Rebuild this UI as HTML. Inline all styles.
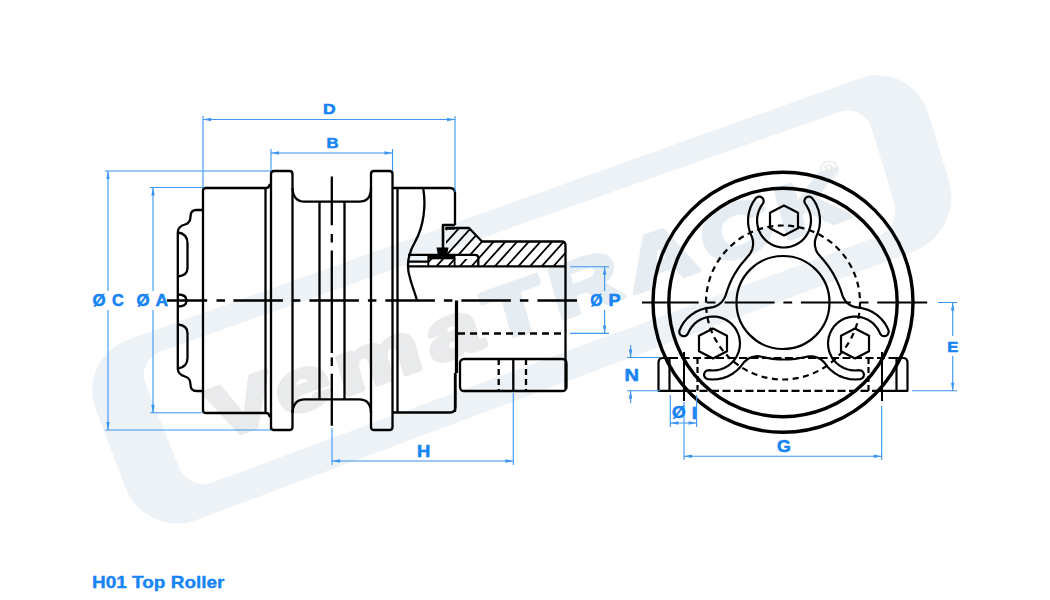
<!DOCTYPE html>
<html><head><meta charset="utf-8"><style>
html,body{margin:0;padding:0;background:#fff;}
body{width:1050px;height:600px;overflow:hidden;font-family:"Liberation Sans",sans-serif;}
svg{display:block;}
</style></head><body>
<svg width="1050" height="600" viewBox="0 0 1050 600">
<rect width="1050" height="600" fill="#fff"/>
<path fill="#ecf2f6" fill-rule="evenodd" d="M128.1,339.8 L859.8,78.4 C888.4,68.2 918.9,83.4 927.9,112.4 L948.8,179.7 C957.8,208.7 942.1,240.9 913.6,251.5 L196.7,520.0 C168.3,530.6 136.4,516.2 125.6,487.8 L95.8,409.7 C85.0,381.3 99.5,350.0 128.1,339.8Z M160.7,351.4 L839.5,111.9 C853.0,107.2 867.4,114.4 871.6,128.2 L894.2,202.5 C898.4,216.2 890.8,231.4 877.4,236.4 L212.8,482.3 C199.4,487.2 184.1,480.5 178.8,467.1 L145.8,384.2 C140.5,370.9 147.1,356.2 160.7,351.4Z"/>
<g transform="rotate(-19.5)">
<text transform="translate(58,488) skewX(-4) scale(1.36,1)" x="0" y="0" font-family="Liberation Sans, sans-serif" font-weight="bold" font-size="72" fill="#e9eaeb" stroke="#e9eaeb" stroke-width="5" stroke-linejoin="round" textLength="494" lengthAdjust="spacing">Vema<tspan fill="#e6edf2" stroke="#e6edf2">TRACK</tspan></text>
<text x="725" y="446" font-family="Liberation Sans, sans-serif" font-size="26" fill="#e9eaeb" text-anchor="middle">®</text>
</g>
<g fill="none" stroke="#000" stroke-width="2.3" stroke-linejoin="round" stroke-linecap="butt">
<path d="M203,210 H196.5 Q190.5,210 190.5,216.5 Q190.5,223 185,224.5 Q178,226.5 177.8,232 V369 Q178,374.5 185,376.5 Q190.5,378 190.5,384.5 Q190.5,391 196.5,391 H203"/>
<path d="M178,232.5 Q187.5,234 187.5,243 V268 Q187.5,275.5 178,276.5"/>
<path d="M178,324.5 Q187.5,325.5 187.5,333 V358 Q187.5,367 178,368.5"/>
<path d="M178,294.5 Q186.5,294.5 186.5,300.5 Q186.5,306.5 178,306.5"/>
<path d="M203,191 Q203,188 206,188 H266 Q269,188 269.5,185 L271,184"/>
<path d="M203,191 V410 Q203,413 206,413 H266 Q269,413 269.5,416 L271,417"/>
<path d="M265.5,188 V413"/>
<path d="M271,430 V174 Q271,171 274,171 H289.5 Q292.5,171 292.5,174 V427 Q292.5,430 289.5,430 H274 Q271,430 271,427"/>
<path d="M292.5,188 Q293,201.7 305,201.7 H359 Q371,201.7 371,188"/>
<path d="M292.5,413 Q293,399.3 305,399.3 H359 Q371,399.3 371,413"/>
<path d="M319.5,201.7 V399.3 M344.5,201.7 V399.3"/>
<path d="M371,174 Q371,171 374,171 H389.5 Q392.5,171 392.5,174 V427 Q392.5,430 389.5,430 H374 Q371,430 371,427 Z"/>
<path d="M393,188 H450 Q455,188 455,193 V225"/>
<path d="M393,412.5 H450 Q455.5,412.5 455.5,407 V373"/>
<path d="M397.5,188 V412.5"/>
<path d="M423.3,189 C426,205 424,226 415,242 C408,254 406,266 410,278 C412,286 415,293 417,300.5"/>
<path d="M455,225 H443 V249" stroke-width="2.6"/>
<path d="M445,228.5 H455"/>
<path d="M446,228 H469 L482,241.5 H561.5 Q565.5,241.5 565.5,245.5 V389"/>
<path d="M408,254.8 H475 Q478.3,254.8 478.3,258 V266.3 M408,261.7 H428 M408,266.3 H565.5"/>
<path d="M428.3,255 V266 M454.6,255 V266" stroke-width="1.8"/>
<path d="M456.5,300.5 V373" stroke-width="3.2"/>
<path d="M455,373 V412"/>
<path d="M458,333.5 H565" stroke-dasharray="7,5"/>
<rect x="460" y="359" width="106.5" height="32" rx="4"/>
<path d="M513.3,359 V391"/>
<path d="M498.7,359 V391 M526,359 V391" stroke-dasharray="6,4"/>
<path d="M331.8,176.5 V225.3 M331.8,234 V242.6 M331.8,250.6 V353 M331.8,357.4 V366 M331.8,373.7 V425.7"/>
<path d="M167.0,300.5 H207.2 M216.5,300.5 H225.0 M233.4,300.5 H282.9 M291.9,300.5 H300.4 M309.4,300.5 H358.9 M367.9,300.5 H376.4 M385.4,300.5 H434.9 M443.9,300.5 H452.4 M461.4,300.5 H510.9 M519.9,300.5 H528.4 M537.4,300.5 H577.0"/>
</g>
<clipPath id="hc"><path d="M446,228 H469 L482,241.5 H561.5 Q565.5,241.5 565.5,245.5 V266.3 H478 V254.8 H446 Z M428,259 H478 V266.3 H428 Z"/></clipPath>
<path clip-path="url(#hc)" d="M281.0,270 L326.0,220 M292.7,270 L337.7,220 M304.4,270 L349.4,220 M316.1,270 L361.1,220 M327.8,270 L372.8,220 M339.5,270 L384.5,220 M351.2,270 L396.2,220 M362.9,270 L407.9,220 M374.6,270 L419.6,220 M386.3,270 L431.3,220 M398.0,270 L443.0,220 M409.7,270 L454.7,220 M421.4,270 L466.4,220 M433.1,270 L478.1,220 M444.8,270 L489.8,220 M456.5,270 L501.5,220 M468.2,270 L513.2,220 M479.9,270 L524.9,220 M491.6,270 L536.6,220 M503.3,270 L548.3,220 M515.0,270 L560.0,220 M526.7,270 L571.7,220 M538.4,270 L583.4,220 M550.1,270 L595.1,220 M561.8,270 L606.8,220 M573.5,270 L618.5,220 M585.2,270 L630.2,220 M596.9,270 L641.9,220 M608.6,270 L653.6,220 M620.3,270 L665.3,220 M632.0,270 L677.0,220 M643.7,270 L688.7,220 M655.4,270 L700.4,220 M667.1,270 L712.1,220 M678.8,270 L723.8,220 M690.5,270 L735.5,220 M702.2,270 L747.2,220 M713.9,270 L758.9,220 M725.6,270 L770.6,220 M737.3,270 L782.3,220" stroke="#000" stroke-width="1.8" fill="none"/>
<path d="M436.5,247.5 H448.5 L447,256 H438 Z" fill="#000"/>
<rect x="428" y="254.5" width="27" height="4.8" fill="#000"/>
<g fill="none" stroke="#000" stroke-width="3.4">
<circle cx="783" cy="302.3" r="130"/>
<circle cx="783" cy="302.5" r="114.2"/>
</g>
<g fill="none" stroke="#000" stroke-width="2.2" stroke-linejoin="round">
<circle cx="783" cy="302.5" r="77" stroke-dasharray="6,4.5"/>
<circle cx="783" cy="302.5" r="46.5"/>
<path d="M725.7,295.1 L724.5,298.0 L722.6,300.9 L720.5,303.2 L717.6,305.3 L715.2,306.4 L713.1,307.1 L705.6,308.3 L700.5,309.7 L695.6,312.0 L690.9,315.1 L687.2,318.4 L683.8,322.4 L681.2,326.6 L679.4,330.8 L679.3,332.1 L679.5,333.2 L680.0,334.2 L680.9,335.2 L681.9,335.8 L683.1,336.2 L684.2,336.2 L685.5,335.9 L686.6,335.2 L687.5,334.2 L689.7,329.9 L692.1,326.4 L694.6,323.7 L697.4,321.4 L701.1,319.2 L704.8,317.8 L708.7,316.8 L712.7,316.5 L716.3,316.7 L719.9,317.4 L723.0,318.4 L726.3,320.0 L729.3,322.0 L731.8,324.2 L734.3,326.9 L736.3,329.9 L737.9,333.2 L739.0,336.3 L739.7,339.9 L740.0,343.5 L739.7,347.1 L739.0,350.7 L737.9,353.8 L736.3,357.1 L733.9,360.6 L731.1,363.5 L728.0,365.9 L724.2,368.0 L720.8,369.3 L717.3,370.2 L713.3,370.5 L708.2,370.2 L707.1,370.5 L705.9,371.1 L705.0,372.0 L704.4,373.2 L704.1,374.3 L704.2,375.6 L704.6,376.8 L705.3,377.7 L706.3,378.6 L707.5,379.1 L712.6,379.5 L717.9,379.2 L723.1,378.1 L728.0,376.2 L732.6,373.7 L736.8,370.5 L740.2,367.1 L744.3,361.9 L747.3,359.3 L749.6,358.0 L752.1,357.0 L754.7,356.5 L757.3,356.2 L760.4,356.5 L767.0,357.9 L772.6,358.8 L778.3,359.3 L783.4,359.5 L789.6,359.3 L795.3,358.8 L800.3,358.0 L808.9,356.3 L812.0,356.3 L814.6,356.7 L818.4,358.0 L821.8,360.1 L824.0,362.2 L827.7,367.0 L830.9,370.2 L835.0,373.4 L839.3,375.9 L844.2,377.8 L849.7,379.1 L855.1,379.5 L860.5,379.1 L861.7,378.6 L862.7,377.7 L863.4,376.8 L863.8,375.6 L863.9,374.3 L863.6,373.2 L863.0,372.0 L862.1,371.1 L860.9,370.5 L859.8,370.2 L854.7,370.5 L850.7,370.2 L847.2,369.3 L843.8,368.0 L840.0,365.9 L836.9,363.5 L834.1,360.6 L831.7,357.1 L830.1,353.8 L829.0,350.7 L828.3,347.1 L828.0,343.5 L828.3,339.9 L829.0,336.3 L830.2,332.9 L831.9,329.6 L833.9,326.6 L836.4,323.9 L839.5,321.4 L842.6,319.5 L845.9,318.1 L849.4,317.1 L853.0,316.6 L856.7,316.6 L860.6,317.1 L864.4,318.2 L868.0,319.8 L871.4,322.0 L873.9,324.2 L876.3,326.9 L878.5,330.2 L880.5,334.2 L882.1,335.7 L884.2,336.2 L886.1,335.8 L887.7,334.6 L888.6,332.8 L888.7,331.5 L888.5,330.2 L887.0,327.0 L885.2,323.8 L881.4,319.0 L876.9,314.9 L872.0,311.8 L867.1,309.6 L862.1,308.2 L855.4,307.2 L851.6,305.9 L849.3,304.6 L847.2,302.9 L845.4,300.9 L843.9,298.7 L842.6,295.9 L840.6,289.7 L838.5,284.4 L836.4,279.7 L833.8,274.7 L830.5,269.4 L827.2,264.7 L823.7,260.3 L818.2,254.0 L816.8,251.8 L815.8,249.3 L814.9,245.4 L814.9,241.5 L815.7,238.0 L818.1,232.2 L819.3,227.5 L820.0,221.9 L819.8,216.5 L818.5,210.1 L816.2,204.4 L814.4,201.2 L812.3,198.3 L811.1,197.2 L809.9,196.7 L807.9,196.7 L806.1,197.5 L804.9,199.0 L804.3,200.9 L804.8,203.0 L807.3,206.9 L809.1,210.5 L810.2,213.9 L810.8,217.2 L811.0,221.2 L810.6,225.1 L809.6,229.0 L808.1,232.6 L806.3,235.8 L804.0,238.6 L801.4,241.2 L798.4,243.3 L795.2,245.0 L791.8,246.3 L788.3,247.2 L784.7,247.5 L781.0,247.3 L777.4,246.7 L774.0,245.6 L771.0,244.2 L767.9,242.2 L765.1,239.8 L762.7,237.1 L760.7,234.1 L758.8,230.2 L757.7,226.4 L757.1,222.5 L757.1,218.2 L757.7,214.6 L758.7,211.1 L760.5,207.2 L763.2,203.0 L763.6,201.8 L763.6,200.4 L763.2,199.2 L762.5,198.1 L761.5,197.2 L760.3,196.7 L759.0,196.6 L757.7,196.9 L756.7,197.4 L755.7,198.3 L752.7,202.7 L750.4,207.6 L748.8,213.0 L748.1,218.2 L748.1,223.1 L748.8,228.0 L750.0,232.3 L752.3,237.9 L753.0,240.9 L753.1,244.9 L752.4,248.8 L751.4,251.3 L749.9,254.0 L741.2,264.2 L737.9,268.8 L734.6,274.1 L731.9,279.1 L729.5,284.3 L727.5,289.6 L725.7,295.1Z"/>
<path d="M784.0,205.5 L798.0,212.7 L798.0,228.3 L784.0,235.5 L770.0,228.3 L770.0,212.7Z"/>
<path d="M713.0,328.5 L727.0,335.7 L727.0,351.3 L713.0,358.5 L699.0,351.3 L699.0,335.7Z"/>
<path d="M855.0,328.5 L869.0,335.7 L869.0,351.3 L855.0,358.5 L841.0,351.3 L841.0,335.7Z"/>
<path stroke-width="2.1" d="M642.0,302.5 H698.6 M706.7,302.5 H715.5 M724.6,302.5 H774.6 M783.4,302.5 H792.2 M800.9,302.5 H850.9 M859.7,302.5 H868.5 M877.2,302.5 H927.2"/>
<path d="M670,358 H663 Q658.5,358 658.5,362.5 V390.8 H688"/>
<path d="M896,358 H903 Q907.5,358 907.5,362.5 V390.8 H878"/>
<path d="M670,358 H896" stroke-dasharray="8,3.5"/>
<path d="M688,390.8 H878" stroke-dasharray="8,3.5"/>
<path d="M669.5,358 V390.8 M896.5,358 V390.8"/>
<path d="M697.5,358 V390.8 M868.5,358 V390.8" stroke-dasharray="6,3"/>
<path d="M684,352 V401 M882,352 V401" stroke-width="2"/>
</g>
<g fill="none" stroke="#3a96f2" stroke-width="1.1">
<path d="M203,116 V188 M455,116 V192 M203,119.5 H455"/>
<path d="M271,149 V171 M392.5,149 V171 M271,153 H392.5"/>
<path d="M105,171 H271 M105,430 H271 M108,171 V291 M108,310 V430"/>
<path d="M150,187.5 H203 M150,412.8 H203 M153,187.5 V291 M153,310 V412.8"/>
<path d="M570,266.7 H609 M570,333.4 H609 M604.6,266.7 V291 M604.6,310 V333.4"/>
<path d="M332,428 V465 M513.3,393 V465 M332,461 H513.3"/>
<path d="M938,302.5 H957 M912,390.8 H957 M952.7,302.5 V336 M952.7,356 V390.8"/>
<path d="M627,357.5 H660 M627,390.8 H660 M630.6,345 V357.5 M630.6,391 V403"/>
<path d="M670.3,395 V427 M696.6,395 V427 M670.3,423 H696.6"/>
<path d="M684,402 V460 M881.7,406 V460 M684,456.3 H881.7"/>
</g>
<path d="M203.0,119.5 L211.0,117.8 L211.0,121.2 Z" fill="#3a96f2"/>
<path d="M455.0,119.5 L447.0,117.8 L447.0,121.2 Z" fill="#3a96f2"/>
<path d="M271.0,153.0 L279.0,151.3 L279.0,154.7 Z" fill="#3a96f2"/>
<path d="M392.5,153.0 L384.5,151.3 L384.5,154.7 Z" fill="#3a96f2"/>
<path d="M108.0,171.0 L106.3,179.0 L109.7,179.0 Z" fill="#3a96f2"/>
<path d="M108.0,430.0 L106.3,422.0 L109.7,422.0 Z" fill="#3a96f2"/>
<path d="M153.0,187.5 L151.3,195.5 L154.7,195.5 Z" fill="#3a96f2"/>
<path d="M153.0,412.8 L151.3,404.8 L154.7,404.8 Z" fill="#3a96f2"/>
<path d="M604.6,266.7 L602.9,274.7 L606.3,274.7 Z" fill="#3a96f2"/>
<path d="M604.6,333.4 L602.9,325.4 L606.3,325.4 Z" fill="#3a96f2"/>
<path d="M332.0,461.0 L340.0,459.3 L340.0,462.7 Z" fill="#3a96f2"/>
<path d="M513.3,461.0 L505.3,459.3 L505.3,462.7 Z" fill="#3a96f2"/>
<path d="M952.7,302.5 L951.0,310.5 L954.4,310.5 Z" fill="#3a96f2"/>
<path d="M952.7,390.8 L951.0,382.8 L954.4,382.8 Z" fill="#3a96f2"/>
<path d="M630.6,357.5 L628.9,349.5 L632.3,349.5 Z" fill="#3a96f2"/>
<path d="M630.6,390.8 L628.9,398.8 L632.3,398.8 Z" fill="#3a96f2"/>
<path d="M670.3,423.0 L678.3,421.3 L678.3,424.7 Z" fill="#3a96f2"/>
<path d="M696.6,423.0 L688.6,421.3 L688.6,424.7 Z" fill="#3a96f2"/>
<path d="M684.0,456.3 L692.0,454.6 L692.0,458.0 Z" fill="#3a96f2"/>
<path d="M881.7,456.3 L873.7,454.6 L873.7,458.0 Z" fill="#3a96f2"/>
<text transform="translate(322.98,114.35) scale(1.122,1)" font-size="15.55" font-family="Liberation Sans, sans-serif" font-weight="bold" fill="#1684f4" stroke="#1684f4" stroke-width="0.55">D</text>
<text transform="translate(326.53,148.35) scale(1.128,1)" font-size="14.83" font-family="Liberation Sans, sans-serif" font-weight="bold" fill="#1684f4" stroke="#1684f4" stroke-width="0.55">B</text>
<text transform="translate(417.02,456.55) scale(1.109,1)" font-size="16.57" font-family="Liberation Sans, sans-serif" font-weight="bold" fill="#1684f4" stroke="#1684f4" stroke-width="0.55">H</text>
<text transform="translate(777.12,452.18) scale(1.032,1)" font-size="17.23" font-family="Liberation Sans, sans-serif" font-weight="bold" fill="#1684f4" stroke="#1684f4" stroke-width="0.55">G</text>
<text transform="translate(947.24,351.65) scale(1.086,1)" font-size="15.26" font-family="Liberation Sans, sans-serif" font-weight="bold" fill="#1684f4" stroke="#1684f4" stroke-width="0.55">E</text>
<text transform="translate(624.61,380.85) scale(1.170,1)" font-size="17.15" font-family="Liberation Sans, sans-serif" font-weight="bold" fill="#1684f4" stroke="#1684f4" stroke-width="0.55">N</text>
<text transform="translate(92.46,306.23) scale(0.970,1)" font-size="17.35" font-family="Liberation Sans, sans-serif" font-weight="bold" fill="#1684f4" stroke="#1684f4" stroke-width="0.55">Ø</text>
<text transform="translate(111.89,306.28) scale(0.933,1)" font-size="17.37" font-family="Liberation Sans, sans-serif" font-weight="bold" fill="#1684f4" stroke="#1684f4" stroke-width="0.55">C</text>
<text transform="translate(136.46,306.23) scale(0.970,1)" font-size="17.35" font-family="Liberation Sans, sans-serif" font-weight="bold" fill="#1684f4" stroke="#1684f4" stroke-width="0.55">Ø</text>
<text transform="translate(155.62,306.15) scale(1.025,1)" font-size="17.01" font-family="Liberation Sans, sans-serif" font-weight="bold" fill="#1684f4" stroke="#1684f4" stroke-width="0.55">A</text>
<text transform="translate(590.31,306.06) scale(0.947,1)" font-size="16.56" font-family="Liberation Sans, sans-serif" font-weight="bold" fill="#1684f4" stroke="#1684f4" stroke-width="0.55">Ø</text>
<text transform="translate(608.44,305.85) scale(1.138,1)" font-size="15.84" font-family="Liberation Sans, sans-serif" font-weight="bold" fill="#1684f4" stroke="#1684f4" stroke-width="0.55">P</text>
<text transform="translate(671.93,418.02) scale(1.086,1)" font-size="16.16" font-family="Liberation Sans, sans-serif" font-weight="bold" fill="#1684f4" stroke="#1684f4" stroke-width="0.55">Ø</text>
<text transform="translate(691.65,418.60) scale(1.126,1)" font-size="16.64" font-family="Liberation Sans, sans-serif" font-weight="bold" fill="#1684f4" stroke="#1684f4" stroke-width="0.55">I</text>
<text x="92" y="588" font-size="16.3" textLength="132.5" lengthAdjust="spacingAndGlyphs" font-family="Liberation Sans, sans-serif" font-weight="bold" fill="#1684f4" stroke="#1684f4" stroke-width="0.35">H01 Top Roller</text>
</svg>
</body></html>
